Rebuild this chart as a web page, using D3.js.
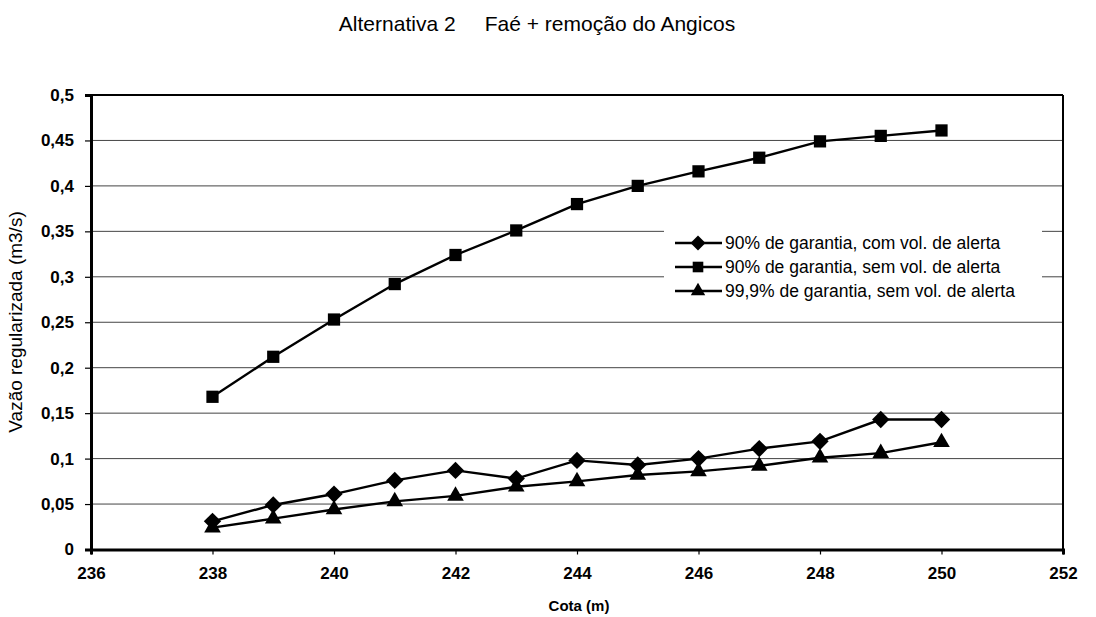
<!DOCTYPE html>
<html>
<head>
<meta charset="utf-8">
<script src="https://cdn.jsdelivr.net/npm/d3@7"></script>
<style>
  html, body { margin: 0; padding: 0; background: #fff; }
  svg text { font-family: "Liberation Sans", Arial, sans-serif; fill: #000; }
</style>
</head>
<body>
<svg id="chart" width="1096" height="617"></svg>
<script>
// Cota (m)
const cotas = [238, 239, 240, 241, 242, 243, 244, 245, 246, 247, 248, 249, 250];

// Vazão regularizada (m3/s) por série
const comVolAlerta90 = [0.031, 0.049, 0.061, 0.076, 0.087, 0.078, 0.098, 0.093, 0.100, 0.111, 0.119, 0.143, 0.143];
const semVolAlerta90 = [0.168, 0.212, 0.253, 0.292, 0.324, 0.351, 0.380, 0.400, 0.416, 0.431, 0.449, 0.455, 0.461];
const semVolAlerta999 = [0.024, 0.034, 0.044, 0.053, 0.059, 0.069, 0.075, 0.082, 0.086, 0.092, 0.101, 0.106, 0.118];

const seriesNames = [
  "90% de garantia, com vol. de alerta",
  "90% de garantia, sem vol. de alerta",
  "99,9% de garantia, sem vol. de alerta"
];
const seriesSymbols = ["diamond", "square", "triangle"];

const xTicks = [236, 238, 240, 242, 244, 246, 248, 250, 252];
const yTicks = [0, 0.05, 0.1, 0.15, 0.2, 0.25, 0.3, 0.35, 0.4, 0.45, 0.5];

const titleText = "Alternativa 2     Faé + remoção do Angicos";
const xTitle = "Cota (m)";
const yTitle = "Vazão regularizada (m3/s)";

const svg = d3.select("#chart");
const margin = { left: 91, right: 1063, top: 95, bottom: 549.5 };

const x = d3.scaleLinear().domain([236, 252]).range([margin.left, margin.right]);
const y = d3.scaleLinear().domain([0, 0.5]).range([margin.bottom, margin.top]);

const fmt = v => (v === 0 ? "0" : d3.format("")(v).replace(".", ","));

// Title
svg.append("text")
  .attr("x", 537).attr("y", 31)
  .attr("text-anchor", "middle")
  .style("font-size", "21px")
  .attr("xml:space", "preserve")
  .text(titleText);

// Horizontal gridlines
svg.append("g")
  .selectAll("line")
  .data(yTicks.filter(v => v > 0 && v < 0.5))
  .join("line")
  .attr("x1", margin.left).attr("x2", margin.right)
  .attr("y1", d => y(d)).attr("y2", d => y(d))
  .attr("stroke", "#444")
  .attr("stroke-width", 1);

// Y axis
const yAxis = svg.append("g")
  .attr("transform", `translate(${margin.left},0)`)
  .call(d3.axisLeft(y).tickValues(yTicks).tickFormat(fmt).tickSize(6).tickPadding(11));
yAxis.attr("font-size", null).attr("font-family", null);
yAxis.select(".domain").attr("stroke", "#000").attr("stroke-width", 3);
yAxis.selectAll(".tick line").attr("stroke", "#000").attr("stroke-width", 1.2);
yAxis.selectAll(".tick text")
  .style("font-size", "17px").style("font-weight", "bold");

// X axis
const xAxis = svg.append("g")
  .attr("transform", `translate(0,${margin.bottom})`)
  .call(d3.axisBottom(x).tickValues(xTicks).tickFormat(d3.format("d")).tickSize(5).tickPadding(12));
xAxis.attr("font-size", null).attr("font-family", null);
xAxis.select(".domain").attr("stroke", "#000").attr("stroke-width", 3);
xAxis.selectAll(".tick line").attr("stroke", "#000").attr("stroke-width", 1.2);
xAxis.selectAll(".tick text")
  .style("font-size", "17px").style("font-weight", "bold");

// Top and right frame
svg.append("line")
  .attr("x1", margin.left).attr("x2", margin.right)
  .attr("y1", margin.top).attr("y2", margin.top)
  .attr("stroke", "#000").attr("stroke-width", 2);
svg.append("line")
  .attr("x1", margin.right).attr("x2", margin.right)
  .attr("y1", margin.top).attr("y2", margin.bottom)
  .attr("stroke", "#000").attr("stroke-width", 2);

// Axis titles
svg.append("text")
  .attr("x", 579).attr("y", 611)
  .attr("text-anchor", "middle")
  .style("font-size", "15px").style("font-weight", "bold")
  .text(xTitle);
svg.append("text")
  .attr("transform", "translate(22,322) rotate(-90)")
  .attr("text-anchor", "middle")
  .style("font-size", "19px")
  .text(yTitle);

// Series
const allSeries = [comVolAlerta90, semVolAlerta90, semVolAlerta999];
const diamondSym = {
  draw(ctx, size) {
    const r = Math.sqrt(size / 2);
    ctx.moveTo(0, -r);
    ctx.lineTo(r, 0);
    ctx.lineTo(0, r);
    ctx.lineTo(-r, 0);
    ctx.closePath();
  }
};
const symbolType = {
  diamond: diamondSym,
  square: d3.symbolSquare,
  triangle: d3.symbolTriangle
};
const symbolSize = { diamond: 150, square: 150, triangle: 120 };

const line = d3.line()
  .x((d, i) => x(cotas[i]))
  .y(d => y(d));

const plot = svg.append("g");
allSeries.forEach(vals => {
  plot.append("path")
    .datum(vals)
    .attr("d", line)
    .attr("fill", "none")
    .attr("stroke", "#000")
    .attr("stroke-width", 2.4);
});
allSeries.forEach((vals, si) => {
  const sym = seriesSymbols[si];
  plot.append("g")
    .selectAll("path")
    .data(vals)
    .join("path")
    .attr("transform", (d, i) => `translate(${x(cotas[i])},${y(d)})`)
    .attr("d", d3.symbol().type(symbolType[sym]).size(symbolSize[sym]))
    .attr("fill", "#000");
});

// Legend
const legend = svg.append("g").attr("transform", "translate(664,229)");
legend.append("rect")
  .attr("x", 0).attr("y", 0).attr("width", 378).attr("height", 76)
  .attr("fill", "#fff");
seriesNames.forEach((name, i) => {
  const ly = 14 + i * 24;
  const row = legend.append("g").attr("transform", `translate(0,${ly})`);
  row.append("line")
    .attr("x1", 11).attr("x2", 58)
    .attr("y1", 0).attr("y2", 0)
    .attr("stroke", "#000").attr("stroke-width", 2.4);
  const sym = seriesSymbols[i];
  row.append("path")
    .attr("transform", "translate(34,0)")
    .attr("d", d3.symbol().type(symbolType[sym]).size(symbolSize[sym] * 0.75))
    .attr("fill", "#000");
  row.append("text")
    .attr("x", 61).attr("y", 6)
    .style("font-size", "17.5px")
    .text(name);
});
</script>
</body>
</html>
